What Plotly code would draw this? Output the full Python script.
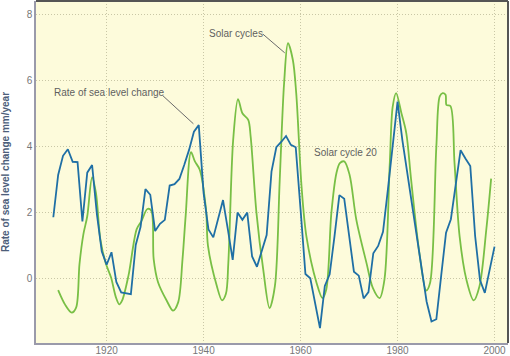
import plotly.graph_objects as go

# ---- data ----
sea_years = list(range(1909, 2001))
sea_rate = [
    1.87, 3.15, 3.73, 3.93, 3.55, 3.54, 1.74, 3.22, 3.45, 1.95,   # 1909-1918
    0.83, 0.43, 0.81, -0.09, -0.41, -0.44, -0.46, 1.03, 1.58, 2.72,  # 1919-1928
    2.55, 1.45, 1.67, 1.79, 2.83, 2.87, 3.03, 3.45, 3.91, 4.46,   # 1929-1938
    4.66, 2.6, 1.5, 1.26, 1.8, 2.39, 1.5, 0.58, 2.01, 1.79,       # 1939-1948
    2.01, 0.68, 0.37, 0.85, 1.33, 3.25, 3.99, 4.15, 4.33, 4.06,   # 1949-1958
    3.99, 2.1, 0.15, 0.02, -0.73, -1.49, -0.21, 0.14, 1.3, 2.54,  # 1959-1968
    2.43, 1.3, 0.22, 0.1, -0.59, -0.4, 0.78, 1.0, 1.43, 2.7,      # 1969-1978
    4.0, 5.37, 4.2, 3.2, 2.24, 1.25, 0.29, -0.69, -1.29, -1.22,   # 1979-1988
    0.1, 1.4, 1.81, 2.9, 3.9, 3.65, 3.42, 1.3, -0.03, -0.42,      # 1989-1998
    0.3, 0.98,                                                    # 1999-2000
]

solar_years = [
    1910.0, 1911.4, 1912.8, 1913.7, 1914.4, 1915.2, 1916.0, 1917.0, 1917.8, 1918.7,
    1919.8, 1920.9, 1921.9, 1922.6, 1923.2, 1924.5, 1926.2, 1927.2, 1928.4, 1929.2,
    1929.7, 1930.6, 1932.4, 1933.7, 1934.75, 1935.65, 1936.3, 1937.4, 1938.2, 1939.2,
    1940.5, 1940.9, 1942.7, 1943.8, 1944.6, 1945.1, 1946.1, 1947.1, 1948.0, 1949.2,
    1949.7, 1950.9, 1952.3, 1953.6, 1954.7, 1955.7, 1956.6, 1957.4, 1958.4, 1959.1,
    1960.2, 1961.2, 1963.3, 1964.5, 1965.3, 1966.35, 1967.4, 1968.1, 1969.0, 1970.1,
    1971.5, 1973.6, 1974.9, 1976.3, 1977.3, 1978.4, 1979.0, 1979.7, 1980.8, 1981.8,
    1982.8, 1984.5, 1985.9, 1986.7, 1988.0, 1988.7, 1989.3, 1989.9, 1990.1, 1990.9,
    1991.75, 1992.8, 1994.2, 1995.7, 1996.9, 1998.3, 1999.3,
]
solar_value = [
    -0.34, -0.77, -1.02, -0.87, 0.45, 1.35, 1.9, 3.08, 2.6, 1.2,
    0.48, 0.05, -0.55, -0.77, -0.65, 0.1, 1.51, 1.76, 2.12, 2.07,
    0.6, -0.1, -0.66, -0.96, -0.71, 0.6, 1.92, 3.84, 3.56, 3.31,
    2.1, 1.0, -0.2, -0.65, -0.45, 0.5, 4.22, 5.45, 5.02, 4.82,
    4.32, 2.0, 0.28, -0.88, -0.22, 3.0, 5.93, 7.14, 6.64, 5.63,
    2.8, 1.29, -0.12, -0.58, -0.32, 2.0, 3.21, 3.51, 3.56, 3.16,
    1.79, 0.48, -0.27, -0.58, -0.02, 3.51, 5.22, 5.63, 5.02, 4.42,
    3.0, 0.79, -0.35, -0.12, 4.01, 5.53, 5.63, 5.58, 5.27, 5.24,
    3.51, 1.29, -0.02, -0.65, -0.22, 1.49, 3.04,
]

x_ticks = [1920, 1940, 1960, 1980, 2000]
y_ticks = [0, 2, 4, 6, 8]
y_title = "Rate of sea level change mm/year"

# annotation labels (text, left x, centre y) and leader lines (x0, y0, x1, y1)
labels = ["Solar cycles", "Rate of sea level change", "Solar cycle 20"]
label_x = [1940.66, 1908.79, 1962.44]
label_y = [7.45, 5.65, 3.83]
leaders = [
    (1952.2, 7.42, 1956.73, 6.85),
    (1931.6, 5.55, 1937.9, 4.70),
]

FONT = "Liberation Sans, Arial, sans-serif"
BLUE = "#1f6fa5"
GREEN = "#78bf45"

fig = go.Figure()
fig.add_trace(go.Scatter(
    x=solar_years, y=solar_value, mode="lines",
    line=dict(color=GREEN, width=1.8, shape="spline", smoothing=0.9),
    name="Solar cycles", showlegend=False, hoverinfo="skip"))
fig.add_trace(go.Scatter(
    x=sea_years, y=sea_rate, mode="lines",
    line=dict(color=BLUE, width=1.8),
    name="Rate of sea level change", showlegend=False))

for t, lx, ly in zip(labels, label_x, label_y):
    fig.add_annotation(x=lx, y=ly, text=t, showarrow=False,
                       xanchor="left", yanchor="middle",
                       font=dict(family=FONT, size=10, color="#5f5f5f"))
for (x0, y0, x1, y1) in leaders:
    fig.add_shape(type="line", x0=x0, y0=y0, x1=x1, y1=y1,
                  xref="x", yref="y", line=dict(color="#6a6a6a", width=1))

# top and right frame
fig.add_shape(type="line", xref="paper", yref="paper", x0=0, y0=1, x1=1, y1=1,
              line=dict(color="#555555", width=2))
fig.add_shape(type="line", xref="paper", yref="paper", x0=1, y0=0, x1=1, y1=1,
              line=dict(color="#555555", width=2))

fig.update_layout(
    width=510, height=356,
    margin=dict(l=36, r=2, t=1, b=13, autoexpand=False),
    paper_bgcolor="white", plot_bgcolor="#fdfbdb",
    font=dict(family=FONT, size=10, color="#777777"),
    showlegend=False,
)
fig.update_xaxes(
    range=[1905.43, 2002.78], tickvals=x_ticks, ticktext=[str(v) for v in x_ticks],
    showgrid=True, gridcolor="#c9c7a6", griddash="1px,2px", gridwidth=1,
    showline=True, linecolor="#9a9aaa", linewidth=1.5,
    ticks="", zeroline=False, automargin=False, ticklabelstandoff=-3,
    tickfont=dict(family=FONT, size=10, color="#777777"),
)
fig.update_yaxes(
    range=[-1.94, 8.42], tickvals=y_ticks, ticktext=[str(v) for v in y_ticks],
    showgrid=True, gridcolor="#c9c7a6", griddash="1px,2px", gridwidth=1,
    showline=True, linecolor="#9a9aaa", linewidth=1.5,
    ticks="", zeroline=False, automargin=False,
    tickfont=dict(family=FONT, size=10, color="#777777"),
    title=dict(text="<b>" + y_title + "</b>", standoff=15,
               font=dict(family=FONT, size=10, color="#4d5e7a")),
)

fig.write_html("out.html", config={"displayModeBar": False},
               post_script="document.body.style.margin='0';")
